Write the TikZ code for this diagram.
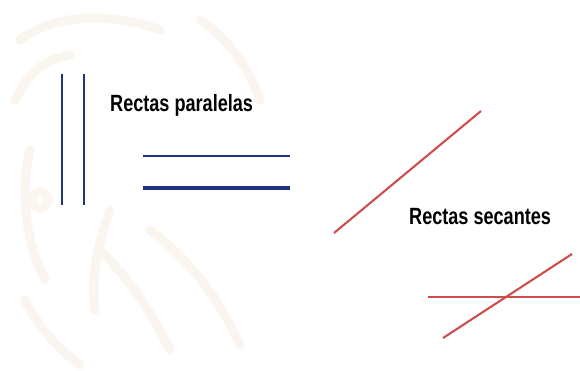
\documentclass[tikz,border=0pt]{standalone}
\usepackage{fontspec}
\setmainfont{Liberation Sans}
\usepackage{graphicx}
\definecolor{navy}{RGB}{32,52,122}
\definecolor{redline}{RGB}{206,78,78}
\definecolor{bgpat}{RGB}{250,246,239}
\tikzset{
  blueline/.style={navy, line width=2.7pt},
  redl/.style={redline, line width=2.1pt},
  label/.style={font=\fontsize{23.5}{25}\selectfont\bfseries, inner sep=0pt},
  pat/.style={bgpat, line width=9pt, line cap=round}
}
\begin{document}
\begin{tikzpicture}[x=1pt,y=-1pt]
\useasboundingbox (0,0) rectangle (580,370);
\fill[white] (0,0) rectangle (580,370);
% faint background ornament
\begin{scope}
\draw[pat] (20,40) .. controls (60,10) and (120,15) .. (160,30);
\draw[pat] (15,100) .. controls (30,70) and (45,60) .. (70,55);
\draw[pat] (30,150) .. controls (20,190) and (25,240) .. (45,280);
\draw[pat] (25,300) .. controls (40,330) and (60,350) .. (80,365);
\draw[pat] (100,250) .. controls (130,280) and (150,310) .. (170,350);
\draw[pat] (150,230) .. controls (190,260) and (220,300) .. (240,345);
\draw[pat] (200,20) .. controls (230,40) and (250,70) .. (260,100);
\draw[pat] (110,210) .. controls (100,240) and (90,270) .. (95,310);
\draw[pat] (40,200) circle (8);
\end{scope}
% parallel lines
\coordinate (v1t) at (62,74); \coordinate (v1b) at (62,205);
\coordinate (v2t) at (84,74); \coordinate (v2b) at (84,205);
\coordinate (h1l) at (143,156); \coordinate (h1r) at (290,156);
\coordinate (h2l) at (143,188); \coordinate (h2r) at (290,188);
\draw[blueline] (v1t) -- (v1b);
\draw[blueline] (v2t) -- (v2b);
\draw[blueline, line width=2.3pt] (h1l) -- (h1r);
\draw[blueline, line width=3.3pt] (h2l) -- (h2r);
\node[label, anchor=west] (par) at (110,105) {\scalebox{0.77}[1]{Rectas paralelas}};
% secant lines
\coordinate (s1a) at (334,233); \coordinate (s1b) at (481,111);
\coordinate (s2a) at (428,297); \coordinate (s2b) at (580,297);
\coordinate (s3a) at (443,338); \coordinate (s3b) at (572,254);
\draw[redl] (s1a) -- (s1b);
\draw[redl] (s2a) -- (s2b);
\draw[redl] (s3a) -- (s3b);
\node[label, anchor=west] (sec) at (409,217) {\scalebox{0.77}[1]{Rectas secantes}};
\end{tikzpicture}
\end{document}
